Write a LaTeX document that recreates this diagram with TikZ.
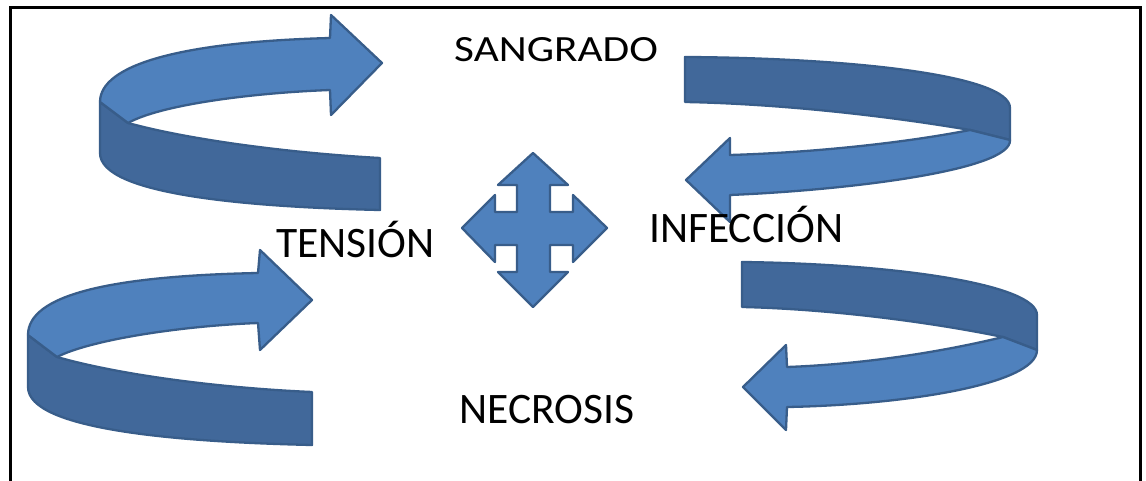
\documentclass[tikz,border=0pt]{standalone}
\usepackage{fontspec}
\setmainfont{Carlito}
\usepackage{graphicx}
\definecolor{lightblue}{HTML}{4F81BD}
\definecolor{darkblue}{HTML}{41689A}
\definecolor{edgeblue}{HTML}{385D8A}
\tikzset{
  lightpart/.style={fill=lightblue, draw=edgeblue, line width=2.3pt, line join=round},
  darkpart/.style={fill=darkblue, draw=edgeblue, line width=2.3pt, line join=round},
  label/.style={inner sep=0pt, anchor=base west, text=black, font=\fontsize{43.5}{46}\selectfont},
  frame/.style={line width=3pt, draw=black}
}
\begin{document}
\begin{tikzpicture}[x=1pt, y=-1pt]
\useasboundingbox (0,0) rectangle (1146,481);
\fill[white] (0,0) rectangle (1146,481);
% frame
\draw[frame] (10,481) -- (10,8) -- (1140,8) -- (1140,481);

% top-left circular arrow
\path[darkpart] (100,102) -- (128,123) .. controls (190,140) and (290,153) .. (380,158)
  -- (380,210) .. controls (250,207) and (100,195) .. (100,153) -- cycle;
\path[lightpart] (330,38) -- (331,15) -- (382,63) -- (331,115) -- (330,90)
  .. controls (250,93) and (160,105) .. (128,123) -- (100,102)
  .. controls (100,65) and (180,42) .. (330,38) -- cycle;

% top-right circular arrow
\path[darkpart] (685,57) .. controls (850,58) and (1010,75) .. (1010,108) -- (1010,140)
  -- (970,130) .. controls (900,118) and (790,104) .. (685,102) -- cycle;
\path[lightpart] (970,130) -- (1010,140) .. controls (1012,170) and (850,190) .. (730,195)
  -- (730,222) -- (686,180) -- (730,138) -- (730,155)
  .. controls (830,152) and (920,140) .. (970,130) -- cycle;

% bottom-left circular arrow
\path[darkpart] (28,335) -- (57,357) .. controls (120,375) and (220,388) .. (312,392)
  -- (312,445) .. controls (180,442) and (28,430) .. (28,387) -- cycle;
\path[lightpart] (258,273) -- (260,250) -- (312,300) -- (260,350) -- (258,323)
  .. controls (180,326) and (90,340) .. (57,357) -- (28,335)
  .. controls (28,295) and (110,276) .. (258,273) -- cycle;

% bottom-right circular arrow
\path[darkpart] (742,262) .. controls (900,264) and (1037,285) .. (1037,315) -- (1037,350)
  -- (1003,337) .. controls (930,322) and (830,309) .. (742,307) -- cycle;
\path[lightpart] (1003,337) -- (1037,350) .. controls (1037,385) and (900,405) .. (787,407)
  -- (786,430) -- (743,387) -- (786,345) -- (787,367)
  .. controls (870,364) and (950,350) .. (1003,337) -- cycle;

% central four-way arrow
\path[lightpart] (533,153) -- (568,185) -- (550,185) -- (550,212) -- (573,212) -- (573,195)
  -- (607,228) -- (573,262) -- (573,245) -- (550,245) -- (550,272) -- (568,272)
  -- (533,307) -- (498,272) -- (517,272) -- (517,245) -- (495,245) -- (495,262)
  -- (462,228) -- (495,195) -- (495,212) -- (517,212) -- (517,185) -- (498,185) -- cycle;

% labels
\node[label, font=\fontsize{37}{40}\selectfont] (sangrado) at (454,62) {\scalebox{1.17}[1]{SANGRADO}};
\node[label] (tension) at (276,258) {TENSIÓN};
\node[label] (infeccion) at (649,243) {INFECCIÓN};
\node[label] (necrosis) at (459,423) {NECROSIS};
\end{tikzpicture}
\end{document}
